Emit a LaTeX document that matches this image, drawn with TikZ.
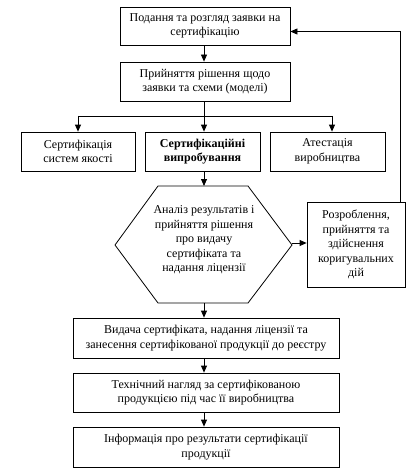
\documentclass[tikz,border=0pt]{standalone}
\usepackage{fontspec}
\setmainfont{Liberation Serif}
\usetikzlibrary{arrows.meta,calc}
\begin{document}
\begin{tikzpicture}[x=1pt,y=-1pt,
  box/.style={draw, line width=0.8pt, align=center, inner sep=1pt, font=\fontsize{12}{14.5}\selectfont},
  txt/.style={align=center, inner sep=0pt, font=\fontsize{12}{14.5}\selectfont},
  arr/.style={line width=0.8pt, -{Triangle[length=7pt,width=6pt]}},
  ln/.style={line width=0.8pt}]
\useasboundingbox (0,0) rectangle (416,476);
\node[box, minimum width=170pt, minimum height=38pt] (b1) at (205,26) {Подання та розгляд заявки на\\сертифікацію};
\node[box, minimum width=170pt, minimum height=39pt] (b2) at (205,81.5) {Прийняття рішення щодо\\заявки та схеми (моделі)};
\node[box, minimum width=114pt, minimum height=39pt] (b3) at (78,151.5) {Сертифікація\\систем якості};
\node[box, minimum width=115pt, minimum height=39pt] (b4) at (202.5,151.5) {\bfseries Сертифікаційні\\\bfseries випробування};
\node[box, minimum width=115pt, minimum height=39pt] (b5) at (327.5,151.5) {Атестація\\виробництва};
\draw[ln] (158,186) -- (248,186) -- (292,245) -- (248,303) -- (158,303) -- (115,245) -- cycle;
\coordinate (hT) at (204,186);
\coordinate (hB) at (204,303);
\coordinate (hR) at (292,243);
\node[txt] (h) at (204,240) {Аналіз результатів і\\прийняття рішення\\про видачу\\сертифіката та\\надання ліцензії};
\node[box, minimum width=98pt, minimum height=85pt] (b6) at (356,244.5) {Розроблення,\\прийняття та\\здійснення\\коригувальних\\дій};
\node[box, minimum width=266pt, minimum height=40pt] (b7) at (206,338) {Видача сертифіката, надання ліцензії та\\занесення сертифікованої продукції до реєстру};
\node[box, minimum width=266pt, minimum height=39pt] (b8) at (206,392.5) {Технічний нагляд за сертифікованою\\продукцією під час її виробництва};
\node[box, minimum width=266pt, minimum height=40pt] (b9) at (206,447) {Інформація про результати сертифікації\\продукції};
\coordinate (j) at (204,116);
\coordinate (jl) at (78,116);
\coordinate (jr) at (332,116);
\coordinate (fb) at (400,31.5);
\draw[arr] (b1.south -| j) -- (b2.north -| j);
\draw[ln] (b2.south -| j) -- (j);
\draw[ln] (jl) -- (jr);
\draw[arr] (jl) -- (jl |- b3.north);
\draw[arr] (j) -- (j |- b4.north);
\draw[arr] (jr) -- (jr |- b5.north);
\draw[arr] (b4.south -| hT) -- (hT);
\draw[arr] (hR) -- (b6.west |- hR);
\draw[arr] (fb |- b6.north) -- (fb) -- (b1.east |- fb);
\draw[arr] (hB) -- (b7.north -| hB);
\draw[arr] (b7.south -| hB) -- (b8.north -| hB);
\draw[arr] (b8.south -| hB) -- (b9.north -| hB);
\end{tikzpicture}
\end{document}
